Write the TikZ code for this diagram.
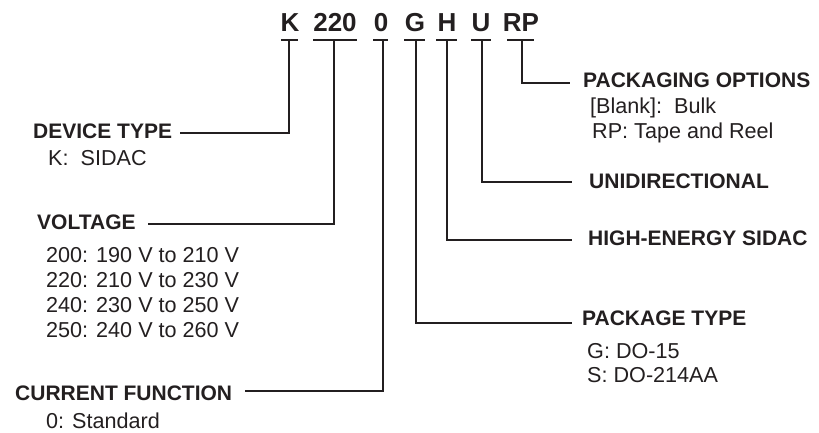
\documentclass[tikz,border=0pt]{standalone}
\usepackage{fontspec}
\setmainfont{Liberation Sans}
\definecolor{ink}{HTML}{231F20}
\begin{document}
\begin{tikzpicture}[x=1pt,y=-1pt,
  codetxt/.style={anchor=base,inner sep=0pt,text=ink,font=\fontsize{26}{30}\selectfont\bfseries},
  head/.style={anchor=base west,inner sep=0pt,text=ink,font=\fontsize{21}{25}\selectfont\bfseries},
  body/.style={anchor=base west,inner sep=0pt,text=ink,font=\fontsize{21.6}{25}\selectfont},
  conn/.style={draw=ink,line width=1.3pt}]
\useasboundingbox (0,0) rectangle (819,433);
% codes
\node[codetxt] (k) at (290,32) {K};
\node[codetxt] (v) at (335,32) {220};
\node[codetxt] (z) at (381,32) {0};
\node[codetxt] (g) at (415,32) {G};
\node[codetxt] (h) at (447,32) {H};
\node[codetxt] (u) at (481,32) {U};
\node[codetxt] (rp) at (521,32) {RP};
% underlines
\draw[conn] (281,40) -- (298,40);
\draw[conn] (313,40) -- (357,40);
\draw[conn] (373,40) -- (388,40);
\draw[conn] (404,40) -- (425,40);
\draw[conn] (436,40) -- (457,40);
\draw[conn] (471,40) -- (491,40);
\draw[conn] (507,40) -- (534,40);
% labels left
\node[head] (dt) at (33,139) {DEVICE TYPE};
\node[body] (dt1) at (48,165) {K:\ \ SIDAC};
\node[head] (vt) at (37,229) {VOLTAGE};
\node[body] (vt1) at (46,262) {200: 190 V to 210 V};
\node[body] (vt2) at (46,287) {220: 210 V to 230 V};
\node[body] (vt3) at (46,312) {240: 230 V to 250 V};
\node[body] (vt4) at (46,337) {250: 240 V to 260 V};
\node[head] (cf) at (15,400) {CURRENT FUNCTION};
\node[body] (cf1) at (46,428) {0: Standard};
% labels right
\node[head] (po) at (583,88) {PACKAGING OPTIONS};
\node[body] (po1) at (590,114) {[Blank]:\ \ Bulk};
\node[body] (po2) at (592,139) {RP: Tape and Reel};
\node[head] (ud) at (589,188) {UNIDIRECTIONAL};
\node[head] (he) at (588,245) {HIGH-ENERGY SIDAC};
\node[head] (pt) at (582,325) {PACKAGE TYPE};
\node[body] (pt1) at (587,358) {G: DO-15};
\node[body] (pt2) at (587,382) {S: DO-214AA};
% connector start points (under the codes)
\coordinate (kS) at (289,40);
\coordinate (vS) at (334,40);
\coordinate (zS) at (383,40);
\coordinate (gS) at (416,40);
\coordinate (hS) at (447,40);
\coordinate (uS) at (482,40);
\coordinate (rpS) at (522,40);
% connector end points (beside the labels)
\coordinate (dtE) at (180,133);
\coordinate (vtE) at (148,224);
\coordinate (cfE) at (245,391);
\coordinate (poE) at (570,83);
\coordinate (udE) at (572,182);
\coordinate (heE) at (572,240);
\coordinate (ptE) at (572,323);
% connectors
\draw[conn] (kS) |- (dtE);
\draw[conn] (vS) |- (vtE);
\draw[conn] (zS) |- (cfE);
\draw[conn] (gS) |- (ptE);
\draw[conn] (hS) |- (heE);
\draw[conn] (uS) |- (udE);
\draw[conn] (rpS) |- (poE);
\end{tikzpicture}
\end{document}
